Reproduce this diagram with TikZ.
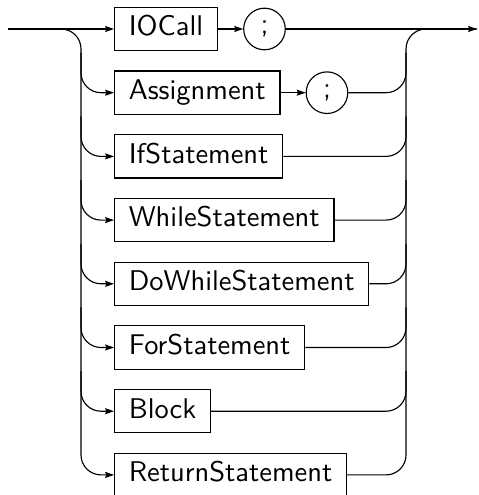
\documentclass[tikz,border=0pt]{standalone}
\usetikzlibrary{arrows.meta,positioning}
\begin{document}
\begin{tikzpicture}[x=0.351pt,y=-0.351pt,
  nt/.style={draw, rectangle, font=\sffamily, inner xsep=5pt, inner ysep=3pt,
    text height=7pt, text depth=2.2pt, anchor=west},
  tm/.style={draw, circle, font=\sffamily, minimum size=14.6pt, inner sep=0pt},
  arr/.style={-{Stealth[length=3.1pt,width=2.1pt,inset=0.4pt]}},
  rc/.style={rounded corners=7pt}]
\useasboundingbox (0,0) rectangle (478,495);
\def\rowy#1{29+63.7*#1}
\coordinate (S) at (8,29);
\coordinate (E) at (477,29);
\node[nt] (io)   at (114,{\rowy{0}}) {IOCall};
\node[tm, right=8.8pt of io] (sc1) {;};
\node[nt] (asg)  at (114,{\rowy{1}}) {Assignment};
\node[tm, right=8.8pt of asg] (sc2) {;};
\node[nt] (ifs)  at (114,{\rowy{2}}) {IfStatement};
\node[nt] (whs)  at (114,{\rowy{3}}) {WhileStatement};
\node[nt] (dws)  at (114,{\rowy{4}}) {DoWhileStatement};
\node[nt] (fors) at (114,{\rowy{5}}) {ForStatement};
\node[nt] (blk)  at (114,{\rowy{6}}) {Block};
\node[nt] (ret)  at (114,{\rowy{7}}) {ReturnStatement};
% main line
\draw[arr] (S) -- (io);
\draw[arr] (io) -- (sc1);
\draw[arr] (sc1) -- (E);
\draw[arr] (asg) -- (sc2);
% left branches
\draw[arr, rc] (S) -| (81,{\rowy{7}}) -- (ret.west);
\foreach \n/\i in {asg/1, ifs/2, whs/3, dws/4, fors/5, blk/6}{
  \draw[arr, rc] (81,{\rowy{\i}-40}) |- (\n.west);
}
% right joins
\draw[rc] (ret.east) -| (406,29) -- (E);
\foreach \n/\i in {sc2/1, ifs/2, whs/3, dws/4, fors/5, blk/6}{
  \draw[rc] (\n.east) -| (406,{\rowy{\i}-40});
}
\end{tikzpicture}
\end{document}
